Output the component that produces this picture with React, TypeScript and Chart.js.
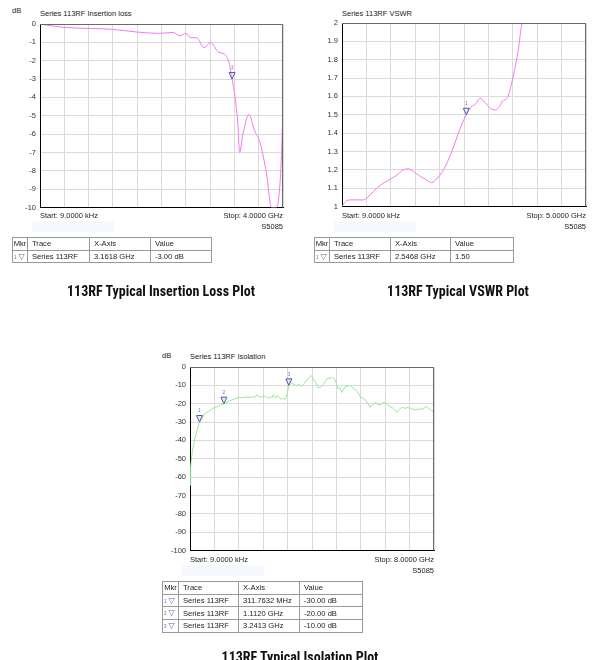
import React, { useEffect, useRef } from "react";
import { Chart, registerables } from "chart.js";

Chart.register(...registerables);

// ---------- Insertion loss (GHz, dB) ----------
const ilFreqGHz = [0, 0.38, 0.79, 1.19, 1.6, 1.97, 2.19, 2.3, 2.4, 2.48, 2.58, 2.7, 2.81, 2.93, 3.06, 3.12, 3.1618, 3.22, 3.26, 3.285, 3.34, 3.44, 3.53, 3.62, 3.73, 3.81, 3.89, 3.96, 4.0];
const ilDb = [0, -0.18, -0.24, -0.29, -0.44, -0.51, -0.46, -0.64, -0.51, -0.75, -0.75, -1.3, -1.0, -1.51, -1.72, -2.2, -3.0, -4.2, -5.6, -7.0, -6.0, -4.93, -5.8, -6.44, -8.18, -10, -10, -8.2, -4.7];
const ilYTicks = [0, -1, -2, -3, -4, -5, -6, -7, -8, -9, -10];
const ilMarkerFreq = [3.1618];
const ilMarkerVal = [-3.0];

// ---------- VSWR (GHz, ratio) ----------
const vswrFreqGHz = [0, 0.07, 0.17, 0.44, 0.51, 0.78, 0.99, 1.12, 1.26, 1.36, 1.47, 1.57, 1.7, 1.84, 1.94, 2.08, 2.25, 2.42, 2.5468, 2.66, 2.73, 2.83, 2.93, 3.04, 3.14, 3.23, 3.29, 3.38, 3.51, 3.61, 3.7, 4.2, 5.0];
const vswrVal = [1.0, 1.027, 1.036, 1.036, 1.047, 1.115, 1.15, 1.17, 1.2, 1.205, 1.19, 1.17, 1.15, 1.13, 1.15, 1.2, 1.3, 1.425, 1.5, 1.547, 1.556, 1.59, 1.566, 1.535, 1.526, 1.547, 1.575, 1.59, 1.71, 1.85, 2.0, 2.0, 2.0];
const vswrYTicks = [2, 1.9, 1.8, 1.7, 1.6, 1.5, 1.4, 1.3, 1.2, 1.1, 1];
const vswrMarkerFreq = [2.5468];
const vswrMarkerVal = [1.5];

// ---------- Isolation (GHz, dB) ----------
const isoFreqGHz = [0, 0.02, 0.08, 0.16, 0.3118, 0.49, 0.77, 1.112, 1.31, 1.45, 1.58, 1.72, 1.86, 1.97, 2.08, 2.14, 2.19, 2.25, 2.3, 2.36, 2.41, 2.46, 2.51, 2.57, 2.62, 2.68, 2.73, 2.78, 2.82, 2.86, 2.9, 2.95, 3.0, 3.05, 3.11, 3.19, 3.2413, 3.27, 3.33, 3.42, 3.5, 3.58, 3.66, 3.8, 3.97, 4.1, 4.21, 4.29, 4.37, 4.48, 4.64, 4.75, 4.86, 4.92, 4.97, 5.08, 5.25, 5.41, 5.49, 5.57, 5.65, 5.74, 5.82, 5.9, 5.98, 6.07, 6.15, 6.23, 6.31, 6.39, 6.47, 6.56, 6.67, 6.78, 6.86, 6.94, 7.05, 7.16, 7.27, 7.38, 7.49, 7.6, 7.68, 7.76, 7.84, 7.92, 8.0];
const isoDb = [-64.4, -54.4, -45.3, -38.9, -30, -25.5, -22.4, -20, -18.4, -17.5, -16.8, -16.6, -16.4, -16.6, -16.1, -16.5, -15.1, -16.2, -16.1, -16.6, -15.3, -16.2, -16.4, -17.1, -16.2, -16.9, -15.1, -16.6, -16.8, -15.6, -16.1, -17.3, -17.5, -16.9, -17.8, -14.5, -10, -7.2, -8.8, -9.6, -10.2, -9.5, -10.6, -7.8, -4.6, -7.8, -11.5, -10.9, -9.7, -6.6, -5.7, -6.6, -12, -11.2, -13.9, -10.9, -10, -12.4, -13.5, -16.1, -16.8, -17.9, -19.6, -21.9, -20.8, -19.3, -20.3, -20.6, -19.5, -19.3, -20.5, -21.5, -22.6, -24.8, -23.2, -22.1, -22.4, -22.1, -22.8, -23.4, -22.9, -23, -22.2, -21.5, -22.8, -23.9, -24.3];
const isoYTicks = [0, -10, -20, -30, -40, -50, -60, -70, -80, -90, -100];
const isoMarkerFreq = [0.3118, 1.112, 3.2413];
const isoMarkerVal = [-30, -20, -10];

const FONT = "'Liberation Sans', Arial, sans-serif";
const GRID = "#dadada";

const framePlugin = {
  id: "frameMarkers",
  afterDatasetsDraw(chart: any, _args: any, opts: any) {
    const { ctx, chartArea: a } = chart;
    ctx.save();
    ctx.strokeStyle = "#6a6a6a";
    ctx.lineWidth = 1;
    ctx.beginPath();
    ctx.moveTo(a.left, a.top + 0.5);
    ctx.lineTo(a.right - 0.5, a.top + 0.5);
    ctx.lineTo(a.right - 0.5, a.bottom);
    ctx.stroke();
    const xs: number[] = opts.xs || [];
    const ys: number[] = opts.ys || [];
    const xScale = chart.scales.x;
    const yScale = chart.scales.y;
    xs.forEach((xv, i) => {
      const px = xScale.getPixelForValue(xv);
      const py = yScale.getPixelForValue(ys[i]);
      ctx.beginPath();
      ctx.moveTo(px - 3, py - 6.5);
      ctx.lineTo(px + 3, py - 6.5);
      ctx.lineTo(px, py);
      ctx.closePath();
      ctx.fillStyle = "rgba(225,225,245,0.6)";
      ctx.fill();
      ctx.strokeStyle = "#5656a8";
      ctx.lineWidth = 1;
      ctx.stroke();
      ctx.fillStyle = "#7a7ab8";
      ctx.font = "5px " + FONT;
      ctx.textAlign = "center";
      ctx.textBaseline = "middle";
      ctx.fillText(String(i + 1), px, py - 11);
    });
    ctx.restore();
  },
};

type PlotProps = {
  left: number;
  top: number;
  width: number;
  height: number;
  yWidth: number;
  pad: { top: number; right: number; bottom: number; left: number };
  freqs: number[];
  vals: number[];
  xMax: number;
  yTicks: number[];
  color: string;
  mx: number[];
  my: number[];
  tension: number;
  monotone: boolean;
};

function Plot(p: PlotProps) {
  const ref = useRef<HTMLCanvasElement>(null);
  useEffect(() => {
    const yMin = Math.min(...p.yTicks);
    const yMax = Math.max(...p.yTicks);
    const chart = new Chart(ref.current as HTMLCanvasElement, {
      type: "line",
      data: {
        datasets: [
          {
            data: p.freqs.map((f, i) => ({ x: f, y: p.vals[i] })),
            borderColor: p.color,
            borderWidth: 1,
            pointRadius: 0,
            tension: p.tension,
            cubicInterpolationMode: p.monotone ? "monotone" : "default",
            fill: false,
          },
        ],
      },
      options: {
        animation: false,
        responsive: false,
        maintainAspectRatio: false,
        layout: { padding: p.pad },
        plugins: {
          legend: { display: false },
          tooltip: { enabled: false },
          frameMarkers: { xs: p.mx, ys: p.my },
        } as any,
        scales: {
          x: {
            type: "linear",
            min: 0,
            max: p.xMax,
            ticks: { display: false, count: 11 },
            grid: { color: GRID, drawTicks: false },
            border: { display: true, color: "#000", width: 1 },
            afterFit: (s: any) => {
              s.height = 0;
            },
          },
          y: {
            type: "linear",
            min: yMin,
            max: yMax,
            ticks: {
              count: p.yTicks.length,
              padding: 4,
              color: "#333",
              font: { family: FONT, size: 7.5 },
              callback: (v: any) => String(Number(Number(v).toFixed(2))),
            },
            grid: { color: GRID, drawTicks: false },
            border: { display: true, color: "#000", width: 1 },
            afterFit: (s: any) => {
              s.width = p.yWidth;
            },
          },
        },
      },
      plugins: [framePlugin],
    } as any);
    return () => chart.destroy();
  }, []);
  return (
    <div style={{ position: "absolute", left: p.left, top: p.top, width: p.width, height: p.height }}>
      <canvas ref={ref} width={p.width} height={p.height} style={{ width: p.width, height: p.height, display: "block" }} />
    </div>
  );
}

const txt = (left: number, top: number, s: string, extra: any = {}) => (
  <div
    style={{
      position: "absolute",
      left,
      top,
      fontFamily: FONT,
      fontSize: 7.5,
      lineHeight: "9px",
      color: "#222",
      whiteSpace: "nowrap",
      ...extra,
    }}
  >
    {s}
  </div>
);

const rtxt = (right: number, top: number, s: string) => (
  <div
    style={{
      position: "absolute",
      left: right - 120,
      width: 120,
      top,
      textAlign: "right",
      fontFamily: FONT,
      fontSize: 7.5,
      lineHeight: "9px",
      color: "#222",
      whiteSpace: "nowrap",
    }}
  >
    {s}
  </div>
);

type Row = { trace: string; x: string; v: string };

function MarkerTable({ left, top, cols, rows }: { left: number; top: number; cols: number[]; rows: Row[] }) {
  const cell: any = {
    border: "1px solid #9a9a9a",
    padding: "0 0 0 4px",
    height: 11.7,
    lineHeight: "11px",
    fontFamily: FONT,
    fontSize: 7.6,
    color: "#222",
    whiteSpace: "nowrap",
    overflow: "hidden",
  };
  return (
    <table
      style={{
        position: "absolute",
        left,
        top,
        borderCollapse: "collapse",
        tableLayout: "fixed",
        width: cols.reduce((a, b) => a + b, 0),
        border: "1px solid #888",
      }}
    >
      <colgroup>
        {cols.map((c, i) => (
          <col key={i} style={{ width: c }} />
        ))}
      </colgroup>
      <tbody>
        <tr>
          <td style={{ ...cell, padding: 0, textAlign: "center" }}>Mkr</td>
          <td style={cell}>Trace</td>
          <td style={cell}>X-Axis</td>
          <td style={cell}>Value</td>
        </tr>
        {rows.map((r, i) => (
          <tr key={i}>
            <td style={{ ...cell, padding: "0 0 0 1px", color: "#6666b0" }}>
              <span style={{ fontSize: 4.5, verticalAlign: "middle" }}>{i + 1}</span>
              <span style={{ fontFamily: "'DejaVu Sans'", fontSize: 8, marginLeft: 2 }}>▽</span>
            </td>
            <td style={cell}>{r.trace}</td>
            <td style={cell}>{r.x}</td>
            <td style={cell}>{r.v}</td>
          </tr>
        ))}
      </tbody>
    </table>
  );
}

const captionStyle: any = {
  position: "absolute",
  fontFamily: "'Liberation Sans Narrow', 'Roboto Condensed', Roboto, sans-serif",
  fontWeight: "bold",
  fontSize: 14,
  color: "#111",
  whiteSpace: "nowrap",
  textAlign: "center",
  lineHeight: "16px",
};

const faint = (left: number, top: number, w: number) => (
  <div style={{ position: "absolute", left, top, width: w, height: 11, background: "#f5f8fc" }} />
);

export default function App() {
  return (
    <div style={{ position: "absolute", left: 0, top: 0, width: 595, height: 660, background: "#fff", overflow: "hidden" }}>
      {/* Insertion loss */}
      {faint(32, 221, 82)}
      {faint(334, 221, 82)}
      {faint(182, 565, 82)}
      {txt(12, 6, "dB")}
      {txt(40, 9, "Series 113RF  Insertion loss")}
      <Plot
        left={0}
        top={0}
        width={290}
        height={216}
        yWidth={40}
        pad={{ top: 24, right: 7, bottom: 5, left: 0 }}
        freqs={ilFreqGHz}
        vals={ilDb}
        xMax={4}
        yTicks={ilYTicks}
        color="#f07af0"
        mx={ilMarkerFreq}
        my={ilMarkerVal}
        tension={0.3}
        monotone={true}
      />
      {txt(40, 211, "Start: 9.0000 kHz")}
      {rtxt(283, 211, "Stop: 4.0000 GHz")}
      {rtxt(283, 222, "S5085")}
      <MarkerTable left={12} top={237} cols={[15, 62, 61, 61]} rows={[{ trace: "Series 113RF", x: "3.1618 GHz", v: "-3.00 dB" }]} />
      <div style={{ ...captionStyle, left: 61, width: 200, top: 283 }}>113RF Typical Insertion Loss Plot</div>

      {/* VSWR */}
      {txt(342, 9, "Series 113RF  VSWR")}
      <Plot
        left={300}
        top={0}
        width={295}
        height={215}
        yWidth={42}
        pad={{ top: 23, right: 9, bottom: 5, left: 0 }}
        freqs={vswrFreqGHz}
        vals={vswrVal}
        xMax={5}
        yTicks={vswrYTicks}
        color="#f07af0"
        mx={vswrMarkerFreq}
        my={vswrMarkerVal}
        tension={0.3}
        monotone={true}
      />
      {txt(342, 211, "Start: 9.0000 kHz")}
      {rtxt(586, 211, "Stop: 5.0000 GHz")}
      {rtxt(586, 222, "S5085")}
      <MarkerTable left={314} top={237} cols={[15, 61, 60, 63]} rows={[{ trace: "Series 113RF", x: "2.5468 GHz", v: "1.50" }]} />
      <div style={{ ...captionStyle, left: 358, width: 200, top: 283 }}>113RF Typical VSWR Plot</div>

      {/* Isolation */}
      {txt(162, 351, "dB")}
      {txt(190, 352, "Series 113RF  Isolation")}
      <Plot
        left={150}
        top={340}
        width={290}
        height={219}
        yWidth={40}
        pad={{ top: 27, right: 6, bottom: 5, left: 0 }}
        freqs={isoFreqGHz}
        vals={isoDb}
        xMax={8}
        yTicks={isoYTicks}
        color="#96ea96"
        mx={isoMarkerFreq}
        my={isoMarkerVal}
        tension={0}
        monotone={false}
      />
      {txt(190, 555, "Start: 9.0000 kHz")}
      {rtxt(434, 555, "Stop: 8.0000 GHz")}
      {rtxt(434, 566, "S5085")}
      <MarkerTable
        left={162}
        top={581}
        cols={[16, 60, 61, 63]}
        rows={[
          { trace: "Series 113RF", x: "311.7632 MHz", v: "-30.00 dB" },
          { trace: "Series 113RF", x: "1.1120 GHz", v: "-20.00 dB" },
          { trace: "Series 113RF", x: "3.2413 GHz", v: "-10.00 dB" },
        ]}
      />
      <div style={{ ...captionStyle, left: 200, width: 200, top: 649 }}>113RF Typical Isolation Plot</div>
    </div>
  );
}
